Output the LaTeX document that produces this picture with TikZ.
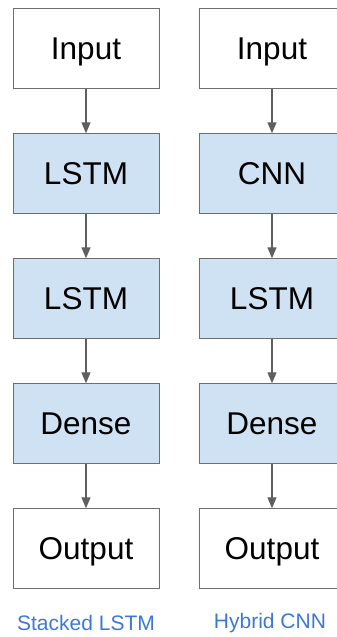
\documentclass[tikz,border=0pt]{standalone}
\usepackage{fontspec}
\setmainfont{Liberation Sans}
\usetikzlibrary{positioning,arrows.meta}
\definecolor{layerfill}{HTML}{CFE2F3}
\definecolor{layerline}{HTML}{6E6E6E}
\definecolor{flowline}{HTML}{5F5F5F}
\definecolor{captionblue}{HTML}{3C78D8}
\tikzset{
  x=1pt, y=-1pt,
  node distance=44.5pt,
  layer/.style={
    draw=layerline, line width=1pt, outer sep=0pt, inner sep=0pt,
    minimum width=146pt, minimum height=80.5pt,
    text height=22.5pt, text depth=0pt,
    font=\fontsize{31.5}{36}\selectfont
  },
  hidden/.style={layer, fill=layerfill},
  flow/.style={
    draw=flowline, line width=1.3pt,
    -{Triangle[length=11pt,width=9pt]}
  },
  caption/.style={text=captionblue, font=\fontsize{21}{24}\selectfont}
}

\begin{document}
\begin{tikzpicture}
\useasboundingbox (0,0) rectangle (337,637);
% stacked lstm
\node[layer]  (inA)   at (86,48.5) {Input};
\node[hidden] (lstmA) [below=of inA]   {LSTM};
\node[hidden] (lstmB) [below=of lstmA] {LSTM};
\node[hidden] (denA)  [below=of lstmB] {Dense};
\node[layer]  (outA)  [below=of denA]  {Output};
% hybrid cnn
\node[layer]  (inB)   at (272,48.5) {Input};
\node[hidden] (cnnB)  [below=of inB]   {CNN};
\node[hidden] (lstmC) [below=of cnnB]  {LSTM};
\node[hidden] (denB)  [below=of lstmC] {Dense};
\node[layer]  (outB)  [below=of denB]  {Output};
\foreach \a/\b in {inA/lstmA,lstmA/lstmB,lstmB/denA,denA/outA,
                   inB/cnnB,cnnB/lstmC,lstmC/denB,denB/outB}
  \draw[flow] (\a) -- (\b);
\node[caption] (capA) at (86,623) {Stacked LSTM};
\node[caption] (capB) at (270,623) {Hybrid CNN};
\end{tikzpicture}
\end{document}
